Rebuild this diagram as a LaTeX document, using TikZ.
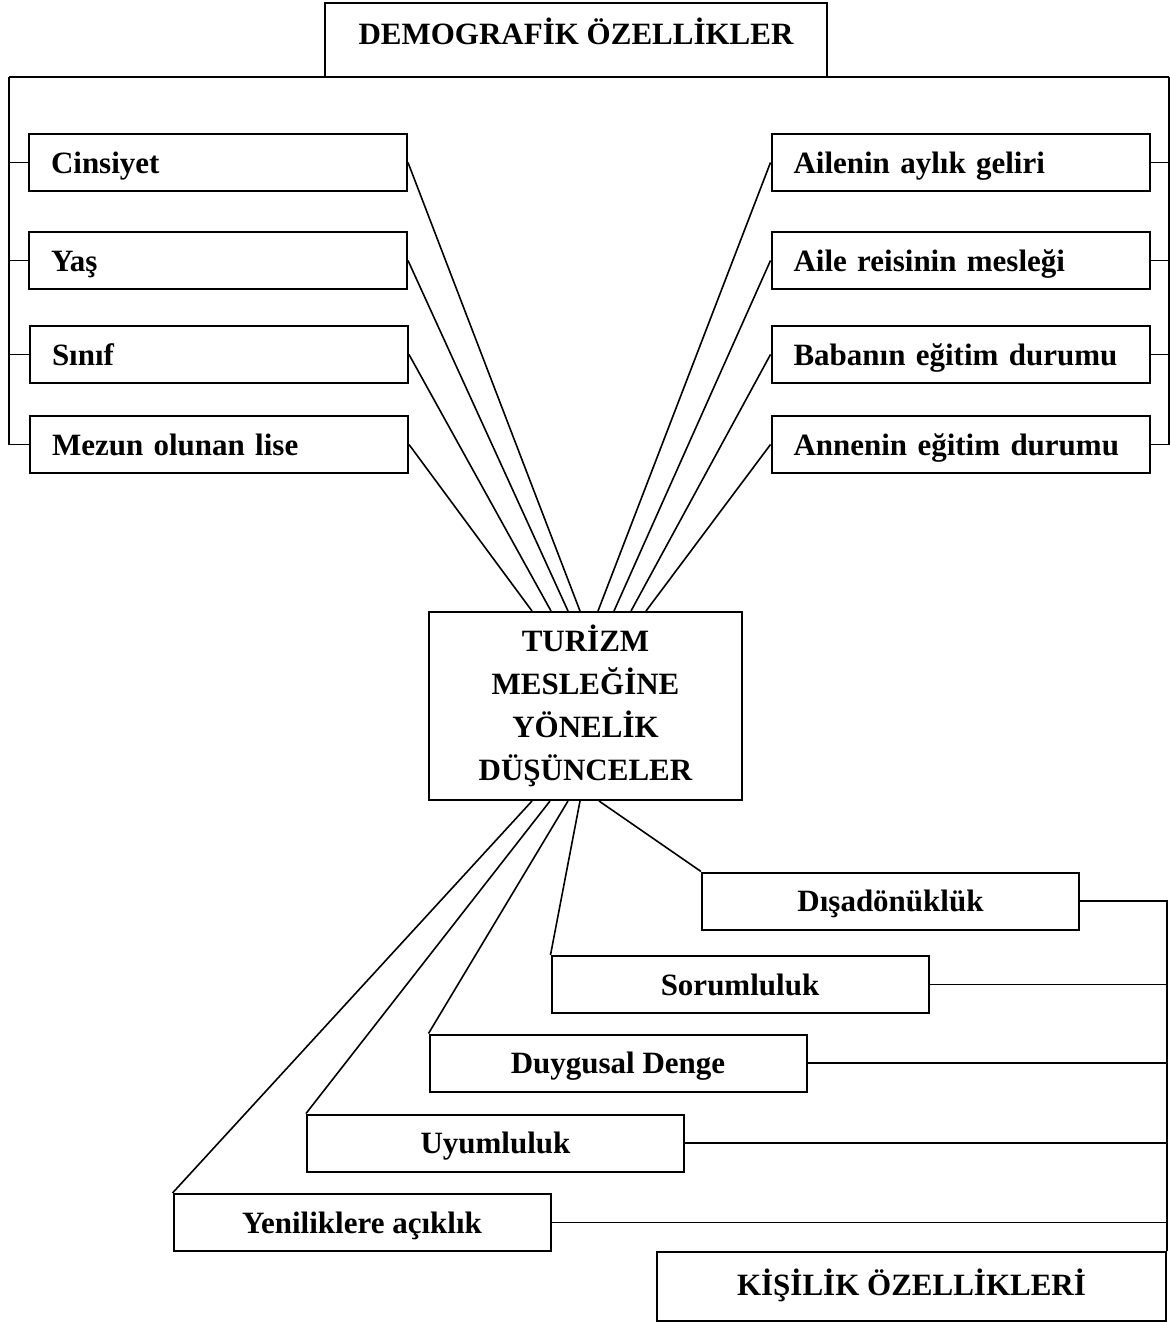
\documentclass[tikz,border=0pt]{standalone}
\usepackage{fontspec}
\setmainfont{Liberation Serif}
\begin{document}
\begin{tikzpicture}[x=0.5pt,y=-0.5pt,
		kutu/.style={draw, line width=1pt, minimum height=28.5pt, text height=13pt, text depth=2.5pt,
			font=\bfseries\fontsize{15.5}{18}\selectfont},
		sol/.style={kutu, inner xsep=11pt, text width=167pt, align=left},
		orta/.style={kutu, minimum width=188.5pt, align=center},
		cizgi/.style={line width=0.8pt}]
		\useasboundingbox (0,0) rectangle (1170,1322);
		%demografik
		\node[kutu, minimum width=251pt, minimum height=37pt, text height=11pt, text depth=6pt] (demo) at (576,40) {DEMOGRAFİK ÖZELLİKLER};
		\node[sol] (cins) at (218,162.5) {Cinsiyet};
		\node[sol] (yas) at (218,260.5) {Yaş};
		\node[sol] (sinif) at (219,354.5) {Sınıf};
		\node[sol] (lise) at (219,444.5) {Mezun olunan lise};
		\node[sol] (gelir) at (960.5,162.5) {Ailenin aylık geliri};
		\node[sol] (reis) at (960.5,260.5) {Aile reisinin mesleği};
		\node[sol] (baba) at (960.5,354.5) {Babanın eğitim durumu};
		\node[sol] (anne) at (960.5,444.5) {Annenin eğitim durumu};
		\coordinate (sl) at (9,77);
		\coordinate (sg) at (1169,77);
		\draw[cizgi] (sl) -- (sg);
		\draw[cizgi] (sl) |- (lise.west);
		\draw[cizgi] (sg) |- (anne.east);
		\foreach \k in {cins,yas,sinif} \draw[cizgi] (\k.west) -- (sl |- \k.west);
		\foreach \k in {gelir,reis,baba} \draw[cizgi] (\k.east) -- (sg |- \k.east);
		%orta
		\node[draw, line width=1pt, minimum width=156.5pt, minimum height=94pt, align=center,
			font=\bfseries\fontsize{15.5}{21.5}\selectfont] (tur) at (585.5,706)
			{TURİZM\\MESLEĞİNE\\YÖNELİK\\DÜŞÜNCELER};
		\draw[cizgi] (cins.east) -- ([xshift=76pt]tur.north west);
		\draw[cizgi] (yas.east) -- ([xshift=70pt]tur.north west);
		\draw[cizgi] (sinif.east) -- ([xshift=61.5pt]tur.north west);
		\draw[cizgi] (lise.east) -- ([xshift=52pt]tur.north west);
		\draw[cizgi] (gelir.west) -- ([xshift=85pt]tur.north west);
		\draw[cizgi] (reis.west) -- ([xshift=93pt]tur.north west);
		\draw[cizgi] (baba.west) -- ([xshift=101.5pt]tur.north west);
		\draw[cizgi] (anne.west) -- ([xshift=109pt]tur.north west);
		%kisilik
		\node[orta] (dis) at (890.5,901) {Dışadönüklük};
		\node[orta] (sor) at (740,984.5) {Sorumluluk};
		\node[orta] (duy) at (618,1063) {Duygusal Denge};
		\node[orta] (uyu) at (495.5,1143) {Uyumluluk};
		\node[orta] (yen) at (362,1222.5) {Yeniliklere açıklık};
		\node[kutu, minimum width=254.5pt, minimum height=34.5pt, text height=11pt, text depth=2.5pt] (kis) at (911.5,1286.5) {KİŞİLİK ÖZELLİKLERİ};
		\draw[cizgi] ([xshift=85.5pt]tur.south west) -- (dis.north west);
		\draw[cizgi] ([xshift=76pt]tur.south west) -- (sor.north west);
		\draw[cizgi] ([xshift=70pt]tur.south west) -- (duy.north west);
		\draw[cizgi] ([xshift=61pt]tur.south west) -- (uyu.north west);
		\draw[cizgi] ([xshift=52pt]tur.south west) -- (yen.north west);
		\draw[cizgi] (dis.east) -| (kis.north east);
		\foreach \k in {sor,duy,uyu,yen} \draw[cizgi] (\k.east) -- (kis.east |- \k.east);
\end{tikzpicture}
\end{document}
